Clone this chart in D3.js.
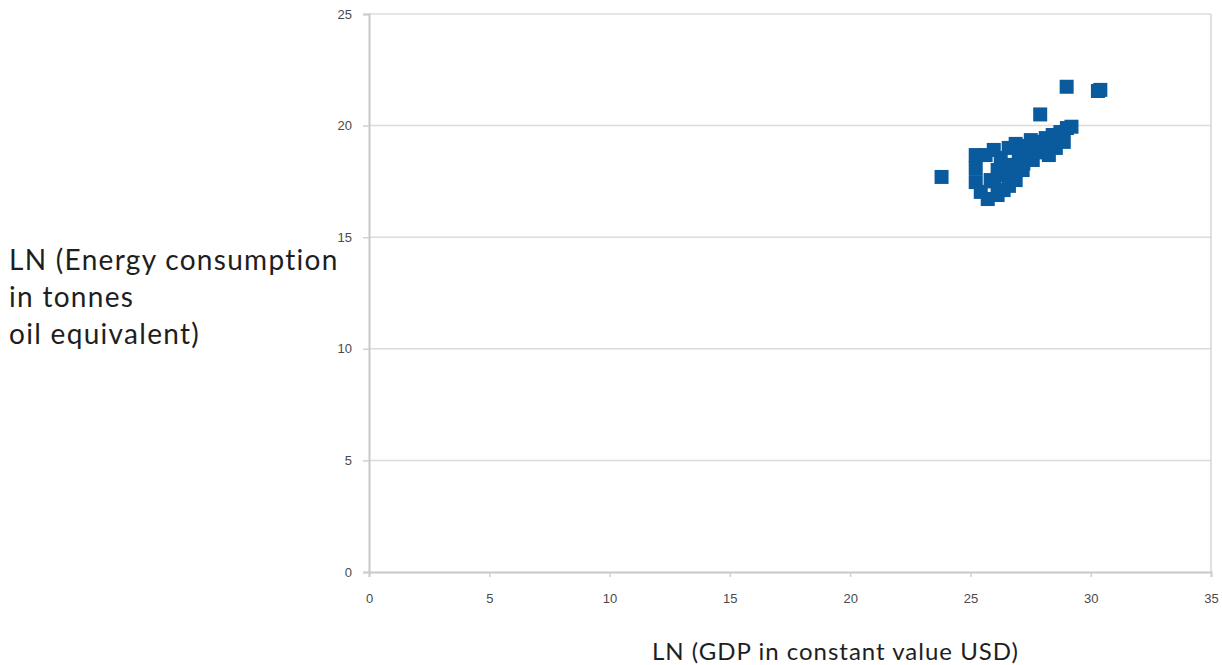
<!DOCTYPE html>
<html>
<head>
<meta charset="utf-8">
<script src="https://cdn.jsdelivr.net/npm/d3@7"></script>
<style>
  body { margin: 0; background: #fff; }
</style>
</head>
<body>
<div class="viz"></div>
<script>
// LN GDP (x) vs LN energy consumption (y)
var gdp = [23.8, 25.22, 25.22, 25.22, 25.43, 25.72, 26.13, 26.38, 25.63, 25.97, 26.26, 26.13,
           25.84, 26.47, 26.68, 26.59, 26.88, 27.01, 26.88, 27.17, 27.30, 27.42, 27.59, 27.51,
           27.84, 27.92, 28.13, 28.26, 28.42, 28.55, 28.74, 28.88, 29.01, 29.2, 27.9, 29.0,
           30.3, 30.4, 26.0, 26.6, 27.2, 27.7, 28.3, 26.9];
var energy = [17.7, 18.68, 18.10, 17.47, 17.03, 16.71, 16.89, 17.11, 18.68, 18.91, 18.55, 18.01,
              17.56, 17.79, 18.24, 19.00, 19.18, 18.68, 17.56, 18.01, 18.55, 19.09, 18.46, 19.35,
              18.91, 19.27, 19.44, 18.68, 19.58, 19.00, 19.71, 19.27, 19.89, 19.95, 20.5, 21.74,
              21.55, 21.6, 17.5, 17.3, 18.3, 18.8, 19.1, 18.0];
var xTicks = [0, 5, 10, 15, 20, 25, 30, 35];
var yTicks = [0, 5, 10, 15, 20, 25];
var yTitle = ["LN (Energy consumption", "in tonnes", "oil equivalent)"];
var xTitle = "LN (GDP in constant value USD)";

var w = 1222;
var h = 665;
var padL = 369, padR = 1211, padT = 14, padB = 572;

var x = d3.scaleLinear().domain([0, 35]).range([padL, padR]);
var y = d3.scaleLinear().domain([0, 25]).range([padB, padT]);

var svg = d3.select(".viz")
    .append("svg")
    .attr("width", w)
    .attr("height", h);

// gridlines
svg.append("g")
    .selectAll("line")
    .data(yTicks.slice(1))
    .enter()
    .append("line")
    .attr("x1", padL)
    .attr("x2", padR)
    .attr("y1", function(d) { return y(d); })
    .attr("y2", function(d) { return y(d); })
    .attr("stroke", "#dcdcdc")
    .attr("stroke-width", 1.5);

// right border
svg.append("line")
    .attr("x1", padR).attr("x2", padR)
    .attr("y1", padT).attr("y2", padB)
    .attr("stroke", "#d6d6d6")
    .attr("stroke-width", 1.5);

var xAxis = d3.axisBottom(x).tickValues(xTicks).tickSize(5).tickPadding(17);
var yAxis = d3.axisLeft(y).tickValues(yTicks).tickSize(6).tickPadding(11);

var gx = svg.append("g")
    .attr("transform", "translate(0," + padB + ")")
    .call(xAxis);
var gy = svg.append("g")
    .attr("transform", "translate(" + padL + ",0)")
    .call(yAxis);

[gx, gy].forEach(function(g) {
    g.select(".domain").attr("stroke", "#c8c8c8").attr("stroke-width", 2);
    g.selectAll(".tick line").attr("stroke", "#d0d0d0").attr("stroke-width", 1.5);
    g.selectAll(".tick text")
        .attr("fill", "#4a4a4a")
        .attr("font-family", "Liberation Sans, Arial, sans-serif")
        .attr("font-size", "13px");
});

// points
svg.append("g")
    .selectAll("rect")
    .data(gdp)
    .enter()
    .append("rect")
    .attr("x", function(d) { return x(d) - 7; })
    .attr("y", function(d, i) { return y(energy[i]) - 7; })
    .attr("width", 14)
    .attr("height", 14)
    .attr("fill", "#0a5a9e");

// titles
svg.append("text")
    .text(xTitle)
    .attr("x", 652)
    .attr("y", 660)
    .attr("font-family", "Lato, sans-serif")
    .attr("font-size", "24px")
    .attr("letter-spacing", "1px")
    .attr("fill", "#1e1e1e");

svg.append("g")
    .selectAll("text")
    .data(yTitle)
    .enter()
    .append("text")
    .text(function(d) { return d; })
    .attr("x", 9)
    .attr("y", function(d, i) { return 270 + i * 37; })
    .attr("font-family", "Lato, sans-serif")
    .attr("font-size", "28px")
    .attr("letter-spacing", "1.3px")
    .attr("fill", "#1e1e1e");
</script>
</body>
</html>
